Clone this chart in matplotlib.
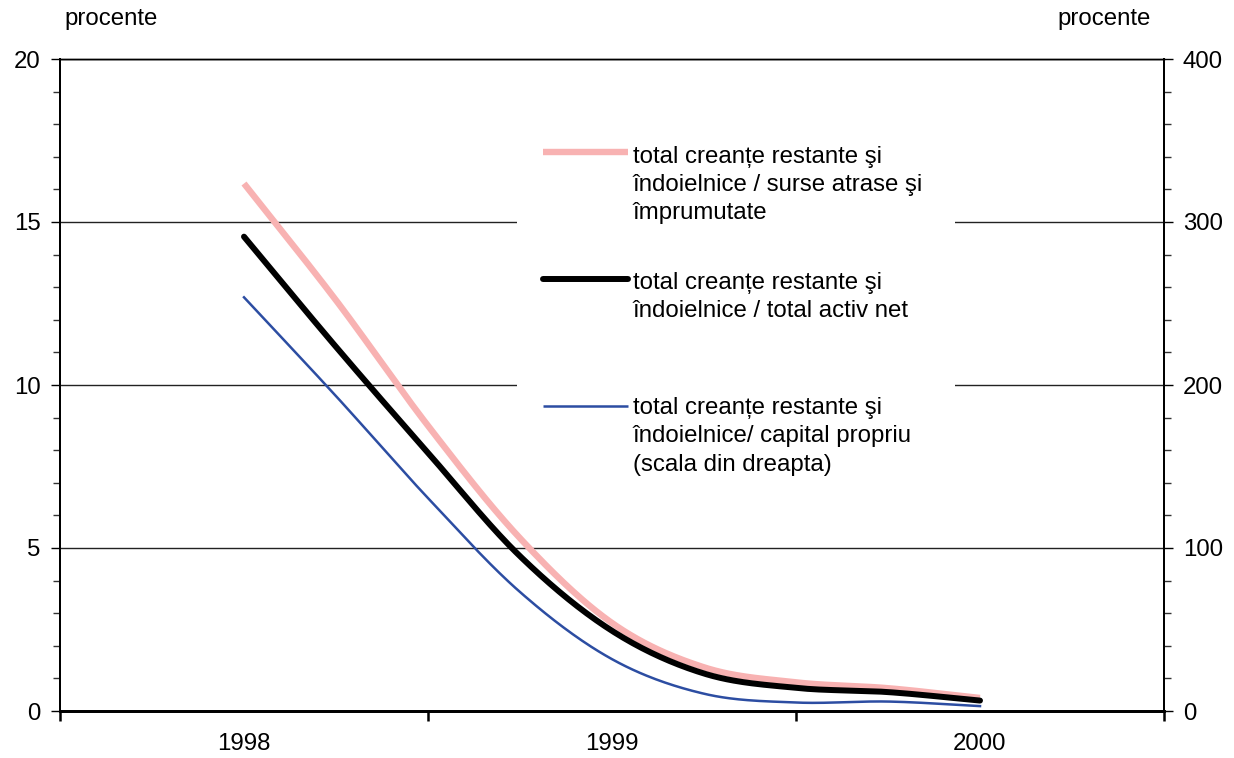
import numpy as np
import matplotlib
matplotlib.use('Agg')
import matplotlib.pyplot as plt
from matplotlib.patches import Rectangle
from matplotlib.ticker import MultipleLocator, FixedLocator, NullFormatter

plt.rcParams['font.family'] = ['Liberation Sans', 'DejaVu Sans']

# ---- data ----
years = ['1998', '1999', '2000']
t = [0.0, 0.25, 0.5, 0.75, 1.0, 1.25, 1.5, 1.75, 2.0]          # position in category units (quarters)
surse_atrase = [16.18, 12.6, 8.75, 5.3, 2.7, 1.34, 0.88, 0.70, 0.40]     # left scale, %
activ_net = [14.55, 11.17, 7.92, 4.75, 2.46, 1.15, 0.71, 0.58, 0.32]     # left scale, %
capital_propriu = [253.8, 193.2, 130.6, 73.0, 31.8, 10.6, 5.2, 5.8, 3.0]  # right scale, %

labels = [
    'total creanțe restante şi\nîndoielnice / surse atrase şi\nîmprumutate',
    'total creanțe restante şi\nîndoielnice / total activ net',
    'total creanțe restante şi\nîndoielnice/ capital propriu\n(scala din dreapta)',
]
colors = ['#f8b2b2', '#000000', '#2c4da2']
widths = [4.6, 4.3, 1.8]


def smooth(x, y, n=40):
    x = np.asarray(x, float)
    y = np.asarray(y, float)
    m = np.empty_like(y)
    m[1:-1] = (y[2:] - y[:-2]) / (x[2:] - x[:-2])
    m[0] = (y[1] - y[0]) / (x[1] - x[0])
    m[-1] = (y[-1] - y[-2]) / (x[-1] - x[-2])
    xs, ys = [], []
    for i in range(len(x) - 1):
        h = x[i + 1] - x[i]
        s = np.linspace(0, 1, n, endpoint=(i == len(x) - 2))
        h00 = 2 * s**3 - 3 * s**2 + 1
        h10 = s**3 - 2 * s**2 + s
        h01 = -2 * s**3 + 3 * s**2
        h11 = s**3 - s**2
        xs.append(x[i] + s * h)
        ys.append(h00 * y[i] + h10 * h * m[i] + h01 * y[i + 1] + h11 * h * m[i + 1])
    return np.concatenate(xs), np.concatenate(ys)


FS = 17.3
W, H = 1234, 758
fig = plt.figure(figsize=(W / 100, H / 100), dpi=100)
ax = fig.add_axes([60 / W, 1 - 711 / H, 1104 / W, 652 / H])
ax2 = ax.twinx()

ax.set_xlim(-0.5, 2.5)
ax.set_ylim(0, 20)
ax2.set_ylim(0, 400)

# grid
ax.set_axisbelow(True)
ax.yaxis.set_major_locator(MultipleLocator(5))
ax.yaxis.set_minor_locator(MultipleLocator(1))
ax.grid(axis='y', which='major', color='#222222', linewidth=1.0)
ax2.yaxis.set_major_locator(MultipleLocator(100))
ax2.yaxis.set_minor_locator(MultipleLocator(20))

# x axis: ticks between categories, labels at category centres
ax.xaxis.set_major_locator(FixedLocator([-0.5, 0.5, 1.5, 2.5]))
ax.xaxis.set_major_formatter(NullFormatter())
ax.set_xticks([0, 1, 2], minor=True)
ax.set_xticklabels(years, minor=True)
ax.tick_params(axis='x', which='major', direction='out', length=7, width=1.8, color='black')
ax.tick_params(axis='x', which='minor', length=0, pad=16, labelsize=FS)

ax.tick_params(axis='y', which='major', direction='out', length=6.5, width=1.0, pad=7.5, labelsize=FS)
ax.tick_params(axis='y', which='minor', direction='out', length=5, width=1.0, color='#333333')
ax2.tick_params(axis='y', which='major', direction='out', length=6.5, width=1.0, pad=7, labelsize=FS)
ax2.tick_params(axis='y', which='minor', direction='out', length=5, width=1.0, color='#333333')

for a in (ax, ax2):
    a.spines['top'].set_linewidth(1.0)
    a.spines['left'].set_linewidth(1.4)
    a.spines['right'].set_linewidth(1.4)
    a.spines['bottom'].set_linewidth(2.0)

# mask behind legend (white box hiding gridlines)
ax.add_patch(Rectangle((0.414, 0.293), 0.397, 0.60, transform=ax.transAxes,
                       facecolor='white', edgecolor='none', zorder=1.5))

# data
xs, ys = smooth(t, surse_atrase)
ax.plot(xs, ys, color=colors[0], linewidth=widths[0], zorder=3, solid_capstyle='butt')
xs, ys = smooth(t, activ_net)
ax.plot(xs, ys, color=colors[1], linewidth=widths[1], zorder=4, solid_capstyle='round')
xs, ys = smooth(t, capital_propriu)
ax2.plot(xs, ys, color=colors[2], linewidth=widths[2], zorder=3)

# legend drawn manually (handle aligned with first text line)
handle_py = [152, 279, 406]      # pixel rows of the legend handles
base_py = [162.7, 288.5, 414]    # pixel rows of first-line baselines
line_step = 28.3
caps = ['butt', 'round', 'butt']
for lab, c, lw, hp, bp, cap in zip(labels, colors, widths, handle_py, base_py, caps):
    fig.add_artist(plt.Line2D([543 / W, 628 / W], [1 - hp / H, 1 - hp / H], color=c,
                              linewidth=lw, solid_capstyle=cap, zorder=5))
    for k, line in enumerate(lab.split('\n')):
        fig.text(633 / W, 1 - (bp + k * line_step) / H, line, fontsize=FS,
                 ha='left', va='baseline', zorder=5)

fig.text(111 / W, 1 - 25 / H, 'procente', fontsize=FS, ha='center', va='baseline')
fig.text(1104 / W, 1 - 25 / H, 'procente', fontsize=FS, ha='center', va='baseline')

fig.savefig('out.png', dpi=100)
